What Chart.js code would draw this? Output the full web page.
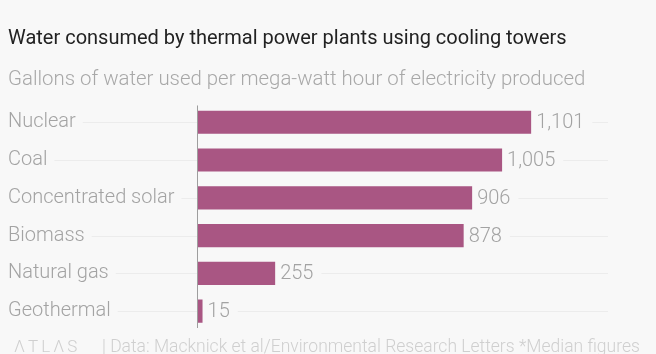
<!DOCTYPE html>
<html>
<head>
<meta charset="utf-8">
<script src="https://cdn.jsdelivr.net/npm/chart.js@4.4.1/dist/chart.umd.min.js"></script>
<style>
  html, body { margin: 0; padding: 0; background: #f8f8f8; }
  #wrap { position: relative; width: 656px; height: 354px; overflow: hidden; }
  #foot { position: absolute; left: 0; top: 336px; width: 656px; font-family: Roboto, sans-serif; color: #cfcfcf; white-space: nowrap; }
  #logo { position: absolute; left: 14px; top: 0; font-size: 17px; letter-spacing: 3px; font-weight: 300; }
  #src { position: absolute; left: 102px; top: 0; font-size: 17.5px; font-weight: 300; }
</style>
</head>
<body>
<div id="wrap">
  <canvas id="chart" width="656" height="354"></canvas>
  <div id="foot">
    <span id="logo">ΛTLΛS</span>
    <span id="src">| Data: Macknick et al/Environmental Research Letters *Median figures</span>
  </div>
</div>
<script>

// data
const categories = ["Nuclear", "Coal", "Concentrated solar", "Biomass", "Natural gas", "Geothermal"];
const gallons = [1101, 1005, 906, 878, 255, 15];

const barColor = "#a95683";
const textGray = "#a3a3a3";
const gridGray = "#ececec";
const labelFont = "300 20px Roboto";

// grid lines that break around the labels, plus value labels
const gridAndValues = {
    id: "gridAndValues",
    beforeDatasetsDraw(chart) {
        const ctx = chart.ctx;
        const area = chart.chartArea;
        const y = chart.scales.y;
        ctx.save();
        ctx.font = labelFont;
        ctx.strokeStyle = gridGray;
        ctx.lineWidth = 1;
        categories.forEach((c, i) => {
            const py = Math.round(y.getPixelForTick(i)) + 0.5;
            const w = ctx.measureText(c).width;
            ctx.beginPath();
            ctx.moveTo(8 + w + 7, py);
            ctx.lineTo(area.left, py);
            ctx.stroke();
        });
        ctx.restore();
    },
    afterDatasetsDraw(chart) {
        const ctx = chart.ctx;
        const area = chart.chartArea;
        const meta = chart.getDatasetMeta(0);
        ctx.save();
        ctx.font = labelFont;
        ctx.textBaseline = "middle";
        meta.data.forEach((bar, i) => {
            const txt = gallons[i].toLocaleString("en-US");
            const x0 = bar.x + 5;
            const w = ctx.measureText(txt).width;
            ctx.fillStyle = textGray;
            ctx.fillText(txt, x0, bar.y + 1);
            const py = Math.round(bar.y) + 0.5;
            ctx.strokeStyle = gridGray;
            ctx.beginPath();
            ctx.moveTo(x0 + w + 8, py);
            ctx.lineTo(area.right, py);
            ctx.stroke();
        });
        // axis line
        ctx.strokeStyle = "#9e9e9e";
        ctx.beginPath();
        ctx.moveTo(area.left - 0.5, area.top + 2);
        ctx.lineTo(area.left - 0.5, area.bottom - 2);
        ctx.stroke();
        ctx.restore();
    }
};

new Chart(document.getElementById("chart"), {
    type: "bar",
    data: {
        labels: categories,
        datasets: [{
            data: gallons,
            backgroundColor: barColor,
            categoryPercentage: 1,
            barPercentage: 0.61
        }]
    },
    options: {
        indexAxis: "y",
        responsive: false,
        animation: false,
        layout: { padding: { left: 8, right: 48, top: 27, bottom: 24 } },
        plugins: {
            legend: { display: false },
            tooltip: { enabled: false },
            title: {
                display: true,
                text: "Water consumed by thermal power plants using cooling towers",
                align: "start",
                color: "#222222",
                font: { family: "Roboto", size: 20, weight: "normal" },
                padding: { top: 0, bottom: 17 }
            },
            subtitle: {
                display: true,
                text: "Gallons of water used per mega-watt hour of electricity produced",
                align: "start",
                color: "#a8a8a8",
                font: { family: "Roboto", size: 20.4, weight: 300 },
                padding: { top: 0, bottom: 11 }
            }
        },
        scales: {
            x: {
                display: false,
                min: 0,
                max: 1355
            },
            y: {
                border: { display: false },
                grid: { display: false },
                afterFit(scale) { scale.width = 190; },
                ticks: {
                    crossAlign: "far",
                    color: textGray,
                    padding: 0,
                    font: { family: "Roboto", size: 20, weight: 300 }
                }
            }
        }
    },
    plugins: [gridAndValues]
});
</script>
</body>
</html>
